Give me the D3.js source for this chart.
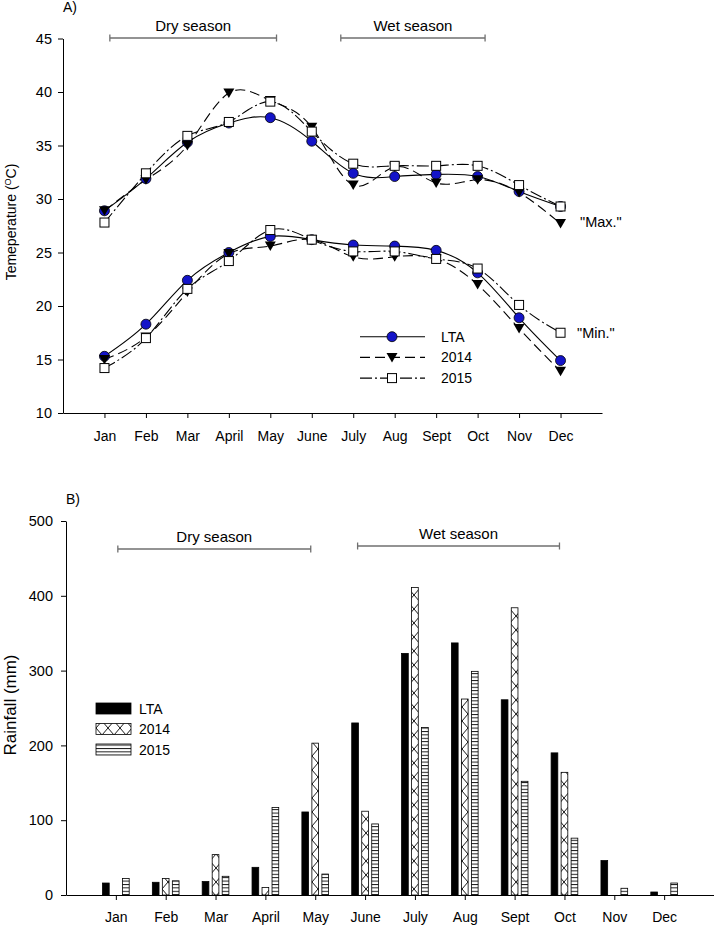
<!DOCTYPE html>
<html><head><meta charset="utf-8">
<script src="https://cdn.jsdelivr.net/npm/d3@7"></script>
<style>body{margin:0;background:#fff}svg text{font-family:Arial,"Liberation Sans",sans-serif;fill:#000}</style>
</head><body><svg id="c" width="714" height="926"></svg>
<script>
const months = ["Jan","Feb","Mar","April","May","June","July","Aug","Sept","Oct","Nov","Dec"];
const maxLTA  = [28.9,31.9,35.3,37.1,37.6,35.4,32.4,32.1,32.3,32.1,30.7,29.3];
const max2014 = [28.9,31.8,35.0,39.9,39.2,36.7,31.3,33.0,31.5,31.8,30.6,27.7];
const max2015 = [27.8,32.4,35.9,37.2,39.1,36.3,33.3,33.1,33.1,33.1,31.3,29.3];
const minLTA  = [15.3,18.3,22.4,25.0,26.5,26.2,25.7,25.6,25.2,23.1,18.9,14.9];
const min2014 = [15.0,17.1,21.3,24.9,25.6,26.2,24.6,24.6,24.4,22.0,17.9,13.9];
const min2015 = [14.2,17.0,21.6,24.2,27.1,26.2,25.1,25.1,24.4,23.5,20.1,17.5];
const tempTicks = [10,15,20,25,30,35,40,45];
const rainLTA  = [16,17,18,37,111,230,323,337,261,190,46,4];
const rain2014 = [0,22,54,10,203,112,411,262,384,164,0,0];
const rain2015 = [22,19,25,117,28,95,224,299,152,76,9,16];
const rainTicks = [0,100,200,300,400,500];
const seriesNames = ["LTA","2014","2015"];
const seasonsTop = [{name:"Dry season",from:0.13,to:4.15},{name:"Wet season",from:5.7,to:9.18}];
const seasonsBot = [{name:"Dry season",from:0.04,to:3.91},{name:"Wet season",from:4.85,to:8.9}];

const svg = d3.select("#c");
const blue = "#1414c8";
const dashes = ["none","10,5","12,3,2,3"];

// ---------- Panel A ----------
const xA = d3.scalePoint().domain(months).range([63,602]).padding(1);
const yA = d3.scaleLinear().domain([10,45]).range([413,38.5]);
const gA = svg.append("g");
gA.append("g").attr("transform","translate(63,0)")
  .call(d3.axisLeft(yA).tickValues(tempTicks).tickSize(5).tickSizeOuter(0).tickPadding(6))
  .call(g=>{g.selectAll("text").style("font-size","14.5px").attr("fill","#000");g.selectAll("line,path").attr("stroke","#000");});
gA.append("g").attr("transform","translate(0,413)")
  .call(d3.axisBottom(xA).tickSize(5).tickSizeOuter(0).tickPadding(13))
  .call(g=>{g.selectAll("text").style("font-size","14px").attr("fill","#000");g.selectAll("line,path").attr("stroke","#000");});

const lineA = d3.line().x((d,i)=>xA(months[i])).y(d=>yA(d)).curve(d3.curveNatural);
const groupsA = [[maxLTA,max2014,max2015],[minLTA,min2014,min2015]];
function marker(g, type, x, y){
  if(type===0) g.append("circle").attr("cx",x).attr("cy",y).attr("r",5).attr("fill",blue).attr("stroke","#000").attr("stroke-width",0.8);
  else if(type===1) g.append("path").attr("d",`M${x-5.5},${y-4.5}L${x+5.5},${y-4.5}L${x},${y+5}Z`).attr("fill","#000");
  else g.append("rect").attr("x",x-4.5).attr("y",y-4.5).attr("width",9).attr("height",9).attr("fill","#fff").attr("stroke","#000").attr("stroke-width",1);
}
groupsA.forEach(grp=>{
  grp.forEach((vals,k)=>{
    gA.append("path").attr("d",lineA(vals)).attr("fill","none").attr("stroke","#000").attr("stroke-width",1.1).attr("stroke-dasharray",dashes[k]);
  });
});
groupsA.forEach(grp=>{
  grp.forEach((vals,k)=>{ vals.forEach((v,i)=>marker(gA,k,xA(months[i]),yA(v))); });
});
gA.append("text").attr("x",580).attr("y",227).style("font-size","14.5px").text('"Max."');
gA.append("text").attr("x",577).attr("y",338).style("font-size","14.5px").text('"Min."');
// legend A
seriesNames.forEach((n,k)=>{
  const y = 336.7 + k*20.7;
  gA.append("line").attr("x1",360).attr("x2",425).attr("y1",y).attr("y2",y).attr("stroke","#000").attr("stroke-width",1.1).attr("stroke-dasharray",dashes[k]);
  marker(gA,k,392,y);
  gA.append("text").attr("x",441).attr("y",y+5).style("font-size","14px").text(n);
});
// seasons A
const sA = d3.scaleLinear().domain([0,11]).range([xA(months[0]),xA(months[11])]);
seasonsTop.forEach(s=>{
  const x1=sA(s.from), x2=sA(s.to), y=38;
  gA.append("path").attr("d",`M${x1},${y}H${x2}M${x1},${y-3.5}V${y+3.5}M${x2},${y-3.5}V${y+3.5}`).attr("stroke","#707070").attr("stroke-width",1.3).attr("fill","none");
  gA.append("text").attr("x",(x1+x2)/2).attr("y",y-7).attr("text-anchor","middle").style("font-size","15px").text(s.name);
});
gA.append("text").attr("x",63).attr("y",12).style("font-size","14px").text("A)");
const yl = gA.append("text").attr("transform","translate(16,222) rotate(-90)").attr("text-anchor","middle").style("font-size","14px");
yl.append("tspan").text("Temeperature (");
yl.append("tspan").attr("dy",-5).style("font-size","9px").text("O");
yl.append("tspan").attr("dy",5).text("C)");

// ---------- Panel B ----------
const xB = d3.scalePoint().domain(months).range([66,714]).padding(1);
const yB = d3.scaleLinear().domain([0,500]).range([895,521]);
const defs = svg.append("defs");
const p1 = defs.append("pattern").attr("id","p2014").attr("patternUnits","userSpaceOnUse").attr("width",12).attr("height",14);
p1.append("rect").attr("width",12).attr("height",14).attr("fill","#fff");
p1.append("path").attr("d","M0,0L12,14M12,0L0,14").attr("stroke","#000").attr("stroke-width",0.9);
const p2 = defs.append("pattern").attr("id","p2015").attr("patternUnits","userSpaceOnUse").attr("width",6).attr("height",3.4);
p2.append("rect").attr("width",6).attr("height",3.4).attr("fill","#fff");
p2.append("line").attr("x1",0).attr("x2",6).attr("y1",0.5).attr("y2",0.5).attr("stroke","#000").attr("stroke-width",0.9);
const fills = ["#000","url(#p2014)","url(#p2015)"];

const gB = svg.append("g");
gB.append("g").attr("transform","translate(66,0)")
  .call(d3.axisLeft(yB).tickValues(rainTicks).tickSize(5).tickSizeOuter(0).tickPadding(8))
  .call(g=>{g.selectAll("text").style("font-size","14.5px").attr("fill","#000");g.selectAll("line,path").attr("stroke","#000");});
gB.append("g").attr("transform","translate(0,895)")
  .call(d3.axisBottom(xB).tickSize(5).tickSizeOuter(0).tickPadding(12))
  .call(g=>{g.selectAll("text").style("font-size","14px").attr("fill","#000");g.selectAll("line,path").attr("stroke","#000");});

const bw = 6.7, off = [-10,0,10];
[rainLTA,rain2014,rain2015].forEach((vals,k)=>{
  gB.append("g").selectAll("rect").data(vals.map((v,i)=>({v,m:months[i]})).filter(d=>d.v>0)).join("rect")
    .attr("x",d=>xB(d.m)+off[k]-bw/2).attr("width",bw)
    .attr("y",d=>yB(d.v)).attr("height",d=>yB(0)-yB(d.v))
    .attr("fill",fills[k]).attr("stroke","#000").attr("stroke-width",0.8);
});
// legend B
seriesNames.forEach((n,k)=>{
  const y = 703 + k*20.5;
  gB.append("rect").attr("x",96).attr("y",y).attr("width",35).attr("height",11).attr("fill",fills[k]).attr("stroke","#000").attr("stroke-width",0.8);
  gB.append("text").attr("x",139).attr("y",y+10.5).style("font-size","14px").text(n);
});
const sB = d3.scaleLinear().domain([0,11]).range([xB(months[0]),xB(months[11])]);
seasonsBot.forEach((s,j)=>{
  const x1=sB(s.from), x2=sB(s.to), y=j===0?549:546;
  gB.append("path").attr("d",`M${x1},${y}H${x2}M${x1},${y-3.5}V${y+3.5}M${x2},${y-3.5}V${y+3.5}`).attr("stroke","#707070").attr("stroke-width",1.3).attr("fill","none");
  gB.append("text").attr("x",(x1+x2)/2).attr("y",y-7).attr("text-anchor","middle").style("font-size","15px").text(s.name);
});
gB.append("text").attr("x",66).attr("y",504).style("font-size","14px").text("B)");
gB.append("text").attr("transform","translate(16,705) rotate(-90)").attr("text-anchor","middle").style("font-size","17px").text("Rainfall (mm)");
</script></body></html>
